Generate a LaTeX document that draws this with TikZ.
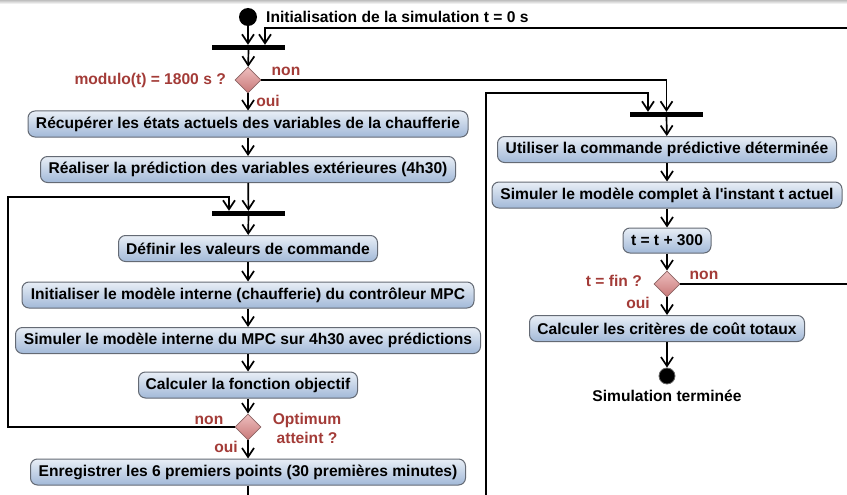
\documentclass[tikz,border=0pt]{standalone}
\usepackage{fontspec}
\setmainfont{Liberation Sans}
\usetikzlibrary{arrows.meta,shapes.geometric,calc}
\definecolor{boxtop}{RGB}{232,238,246}
\definecolor{boxbot}{RGB}{162,185,216}
\definecolor{boxline}{RGB}{100,106,116}
\definecolor{diatop}{RGB}{238,190,190}
\definecolor{diabot}{RGB}{200,120,120}
\definecolor{dialine}{RGB}{140,100,100}
\definecolor{lblred}{RGB}{163,59,55}
\tikzset{
  x=1pt, y=-1pt,
  every node/.style={font=\fontsize{15.6}{18}\selectfont\bfseries},
  act/.style={draw=boxline, line width=1pt, rounded corners=7pt, top color=boxtop, bottom color=boxbot,
    inner sep=0pt, minimum height=26pt, text=black},
  dec/.style={diamond, draw=dialine, line width=0.8pt, top color=diatop, bottom color=diabot,
    inner sep=0pt, minimum width=26pt, minimum height=26pt},
  forkbar/.style={fill=black, inner sep=0pt, minimum width=73pt, minimum height=5pt},
  lbl/.style={text=lblred, inner sep=0pt},
  arr/.style={line width=1.7pt, -{Straight Barb[length=9pt,width=12pt,line width=1.7pt]}},
  ln/.style={line width=1.7pt},
}
\begin{document}
\begin{tikzpicture}
\useasboundingbox (0,0) rectangle (847,495);
\shade[top color=black!25, bottom color=white] (0,0) rectangle (847,4);

% left column
\node[circle, fill=black, inner sep=0pt, minimum size=18pt] (start) at (248,17) {};
\node[anchor=west, inner sep=0pt] (init) at (266,17) {Initialisation de la simulation t = 0 s};
\node[forkbar] (bar1) at (248.5,47.5) {};
\node[dec] (d1) at (248,80) {};
\node[lbl, anchor=east] (q1) at (226,80) {modulo(t) = 1800 s ?};
\node[lbl] (non1) at (286,71) {non};
\node[lbl] (oui1) at (268,101) {oui};
\node[act, minimum width=440pt] (b1) at (248,124) {Récupérer les états actuels des variables de la chaufferie};
\node[act, minimum width=415pt] (b2) at (248,169.5) {Réaliser la prédiction des variables extérieures (4h30)};
\node[forkbar] (bar3) at (248.5,213.5) {};
\node[act, minimum width=259pt] (b3) at (248,248.5) {Définir les valeurs de commande};
\node[act, minimum width=452pt] (b4) at (248,295) {Initialiser le modèle interne (chaufferie) du contrôleur MPC};
\node[act, minimum width=465pt] (b5) at (248,340.5) {Simuler le modèle interne du MPC sur 4h30 avec prédictions};
\node[act, minimum width=219pt] (b6) at (248,385) {Calculer la fonction objectif};
\node[dec] (d2) at (248,427) {};
\node[lbl, align=center] (q2) at (307,428) {Optimum\\[1pt]atteint ?};
\node[lbl] (non2) at (209,420) {non};
\node[lbl] (oui2) at (226,447) {oui};
\node[act, minimum width=435pt] (b7) at (248,472) {Enregistrer les 6 premiers points (30 premières minutes)};

% right column
\node[forkbar] (bar2) at (666.5,114.5) {};
\node[act, minimum width=339pt] (r1) at (667,149.5) {Utiliser la commande prédictive déterminée};
\node[act, minimum width=350pt] (r2) at (667,195) {Simuler le modèle complet à l\textquotesingle instant t actuel};
\node[act, minimum width=88pt, minimum height=25pt] (r3) at (667,240.5) {t = t + 300};
\node[dec] (d3) at (667,284) {};
\node[lbl, anchor=east] (q3) at (642,281) {t = fin ?};
\node[lbl] (non3) at (704,275) {non};
\node[lbl] (oui3) at (638,303) {oui};
\node[act, minimum width=275pt] (r4) at (667,328.5) {Calculer les critères de coût totaux};
\node[circle, fill=black, draw=black!60, line width=0.8pt, inner sep=0pt, minimum size=16pt] (stop) at (667,376) {};
\node[inner sep=0pt] (stoplbl) at (667,396) {Simulation terminée};

% free ends
\coordinate (rin) at (847,28);
\coordinate (rin2) at (265,28);
\coordinate (loopA) at (8,427);
\coordinate (loopB) at (8,197);
\coordinate (loopC) at (229,197);
\coordinate (b7out) at (248,495);
\coordinate (rup) at (486,495);
\coordinate (rupA) at (486,93);
\coordinate (rupB) at (648,93);
\coordinate (d3out) at (847,284);

% connectors
\draw[arr] (start) -- (start |- bar1.north);
\draw[arr] (rin) -- (rin2) -- (rin2 |- bar1.north);
\draw[arr] (bar1) -- (d1);
\draw[arr] (d1) -- (b1);
\draw[arr] (d1.east) -| (bar2.north);
\draw[arr] (b1) -- (b2);
\draw[arr] (b2) -- (bar3);
\draw[arr] (d2.west) -- (loopA) -- (loopB) -- (loopC) -- (loopC |- bar3.north);
\draw[arr] (bar3) -- (b3);
\draw[arr] (b3) -- (b4);
\draw[arr] (b4) -- (b5);
\draw[arr] (b5) -- (b6);
\draw[arr] (b6) -- (d2);
\draw[arr] (d2) -- (b7);
\draw[ln] (b7) -- (b7out);
\draw[arr] (rup) -- (rupA) -- (rupB) -- (rupB |- bar2.north);
\draw[arr] (bar2) -- (r1);
\draw[arr] (r1) -- (r2);
\draw[arr] (r2) -- (r3);
\draw[arr] (r3) -- (d3);
\draw[ln] (d3.east) -- (d3out);
\draw[arr] (d3) -- (r4);
\draw[arr] (r4) -- (stop);
\end{tikzpicture}
\end{document}
